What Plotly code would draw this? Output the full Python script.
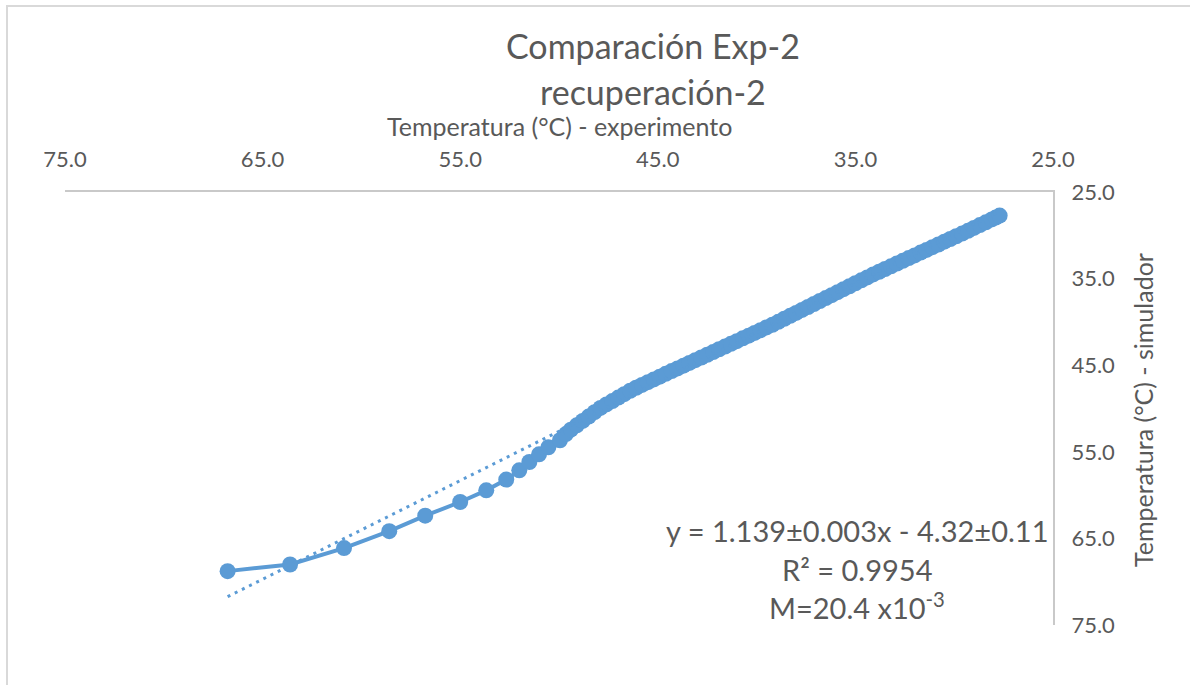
import plotly.graph_objects as go

# ---- data ----
exp_temp = [66.77, 63.61, 60.88, 58.59, 56.77, 55.00, 53.68, 52.67, 52.01, 51.50,
            51.01, 50.54, 49.95, 49.65, 49.40, 49.10, 48.80, 48.50, 48.20, 47.90,
            47.60, 47.30, 47.00, 46.70, 46.40, 46.10, 45.80, 45.50, 45.20, 44.90,
            44.60, 44.30, 44.00, 43.70, 43.40, 43.10, 42.80, 42.50, 42.20, 41.90,
            41.60, 41.30, 41.00, 40.70, 40.40, 40.10, 39.80, 39.50, 39.20, 38.90,
            38.60, 38.30, 38.00, 37.70, 37.40, 37.10, 36.80, 36.50, 36.20, 35.90,
            35.60, 35.30, 35.00, 34.70, 34.40, 34.10, 33.80, 33.50, 33.20, 32.90,
            32.60, 32.30, 32.00, 31.70, 31.40, 31.10, 30.80, 30.50, 30.20, 29.90,
            29.60, 29.30, 29.00, 28.70, 28.40, 28.10, 27.90, 27.70]
sim_temp = [68.78, 68.01, 66.12, 64.16, 62.38, 60.80, 59.45, 58.21, 57.14, 56.18,
            55.29, 54.48, 53.67, 52.95, 52.44, 51.94, 51.43, 50.93, 50.42, 49.93,
            49.53, 49.14, 48.74, 48.35, 47.95, 47.60, 47.28, 46.96, 46.64, 46.32,
            46.00, 45.68, 45.37, 45.05, 44.74, 44.42, 44.11, 43.79, 43.48, 43.16,
            42.85, 42.53, 42.22, 41.90, 41.59, 41.27, 40.96, 40.64, 40.33, 39.99,
            39.64, 39.30, 38.96, 38.62, 38.28, 37.93, 37.59, 37.25, 36.91, 36.57,
            36.22, 35.88, 35.54, 35.20, 34.86, 34.52, 34.21, 33.89, 33.58, 33.26,
            32.95, 32.63, 32.32, 32.00, 31.69, 31.37, 31.06, 30.74, 30.43, 30.11,
            29.80, 29.48, 29.15, 28.82, 28.50, 28.17, 27.95, 27.72]

trend_slope = 1.139
trend_intercept = -4.32
trend_x = [66.77, 27.70]
trend_y = [trend_slope * v + trend_intercept for v in trend_x]

x_ticks = [75.0, 65.0, 55.0, 45.0, 35.0, 25.0]
y_ticks = [25.0, 35.0, 45.0, 55.0, 65.0, 75.0]

title_lines = ["Comparación Exp-2", "recuperación-2"]
x_title = "Temperatura (°C) - experimento"
y_title = "Temperatura (°C) - simulador"
eq_lines = ["y = 1.139±0.003x - 4.32±0.11", "R² = 0.9954", "M=20.4 x10<sup>-3</sup>"]

BLUE = "#5B9BD5"
GREY_TXT = "#595959"
AXIS_GREY = "#C9C9C9"
FONT = "Lato"

FIG_W, FIG_H = 1190, 685
L, R, T, B = 65, 1053, 192, 625
W, H = R - L, B - T


def px_x(p):
    return (p - L) / W


def px_y(p):
    return (B - p) / H


fig = go.Figure()
fig.add_trace(go.Scatter(
    x=exp_temp, y=sim_temp, mode="lines+markers",
    line=dict(color=BLUE, width=4),
    marker=dict(color=BLUE, size=16, line=dict(color=BLUE, width=0)),
    showlegend=False, hoverinfo="skip"))
fig.add_trace(go.Scatter(
    x=trend_x, y=trend_y, mode="lines",
    line=dict(color=BLUE, width=3, dash="3px,5px"),
    showlegend=False, hoverinfo="skip"))

fig.update_layout(
    width=FIG_W, height=FIG_H,
    margin=dict(l=L, r=FIG_W - R, t=T, b=FIG_H - B, autoexpand=False),
    paper_bgcolor="white", plot_bgcolor="white",
    font=dict(family=FONT, color=GREY_TXT),
    xaxis=dict(
        side="top", range=[75, 25], tickvals=x_ticks,
        ticktext=[f"{v:.1f}" for v in x_ticks],
        showgrid=False, zeroline=False, automargin=False,
        showline=True, linecolor=AXIS_GREY, linewidth=2,
        ticks="", tickfont=dict(size=22, color=GREY_TXT, family=FONT),
        ticklabelstandoff=14,
    ),
    yaxis=dict(
        side="right", range=[75, 25], tickvals=y_ticks,
        ticktext=[f"{v:.1f}" for v in y_ticks],
        showgrid=False, zeroline=False, automargin=False,
        showline=True, linecolor=AXIS_GREY, linewidth=2,
        ticks="", tickfont=dict(size=22, color=GREY_TXT, family=FONT),
        ticklabelstandoff=12,
    ),
)

# title lines
for line, py in zip(title_lines, [45, 91]):
    fig.add_annotation(text=line, xref="paper", yref="paper",
                       x=px_x(653), y=px_y(py), xanchor="center", yanchor="middle",
                       showarrow=False, font=dict(size=34, color=GREY_TXT, family=FONT))

# axis titles
fig.add_annotation(text=x_title, xref="paper", yref="paper",
                   x=px_x(559), y=px_y(126), xanchor="center", yanchor="middle",
                   showarrow=False, font=dict(size=25, color=GREY_TXT, family=FONT))
fig.add_annotation(text=y_title, xref="paper", yref="paper",
                   x=px_x(1143), y=px_y(410), xanchor="center", yanchor="middle",
                   textangle=-90, showarrow=False,
                   font=dict(size=25, color=GREY_TXT, family=FONT))

# equation box
for line, py in zip(eq_lines, [530, 569, 606]):
    fig.add_annotation(text=line, xref="paper", yref="paper",
                       x=px_x(857), y=px_y(py),
                       xanchor="center", yanchor="middle", showarrow=False,
                       font=dict(size=29, color=GREY_TXT, family=FONT))

# chart-area border (top and left visible)
fig.add_shape(type="line", xref="paper", yref="paper",
              x0=px_x(6), x1=px_x(1250), y0=px_y(6), y1=px_y(6),
              line=dict(color="#D9D9D9", width=2))
fig.add_shape(type="line", xref="paper", yref="paper",
              x0=px_x(7), x1=px_x(7), y0=px_y(5), y1=px_y(720),
              line=dict(color="#D9D9D9", width=2))

fig.write_html("out.html", config={"displayModeBar": False},
               post_script="document.body.style.margin='0';document.body.style.overflow='hidden';")
